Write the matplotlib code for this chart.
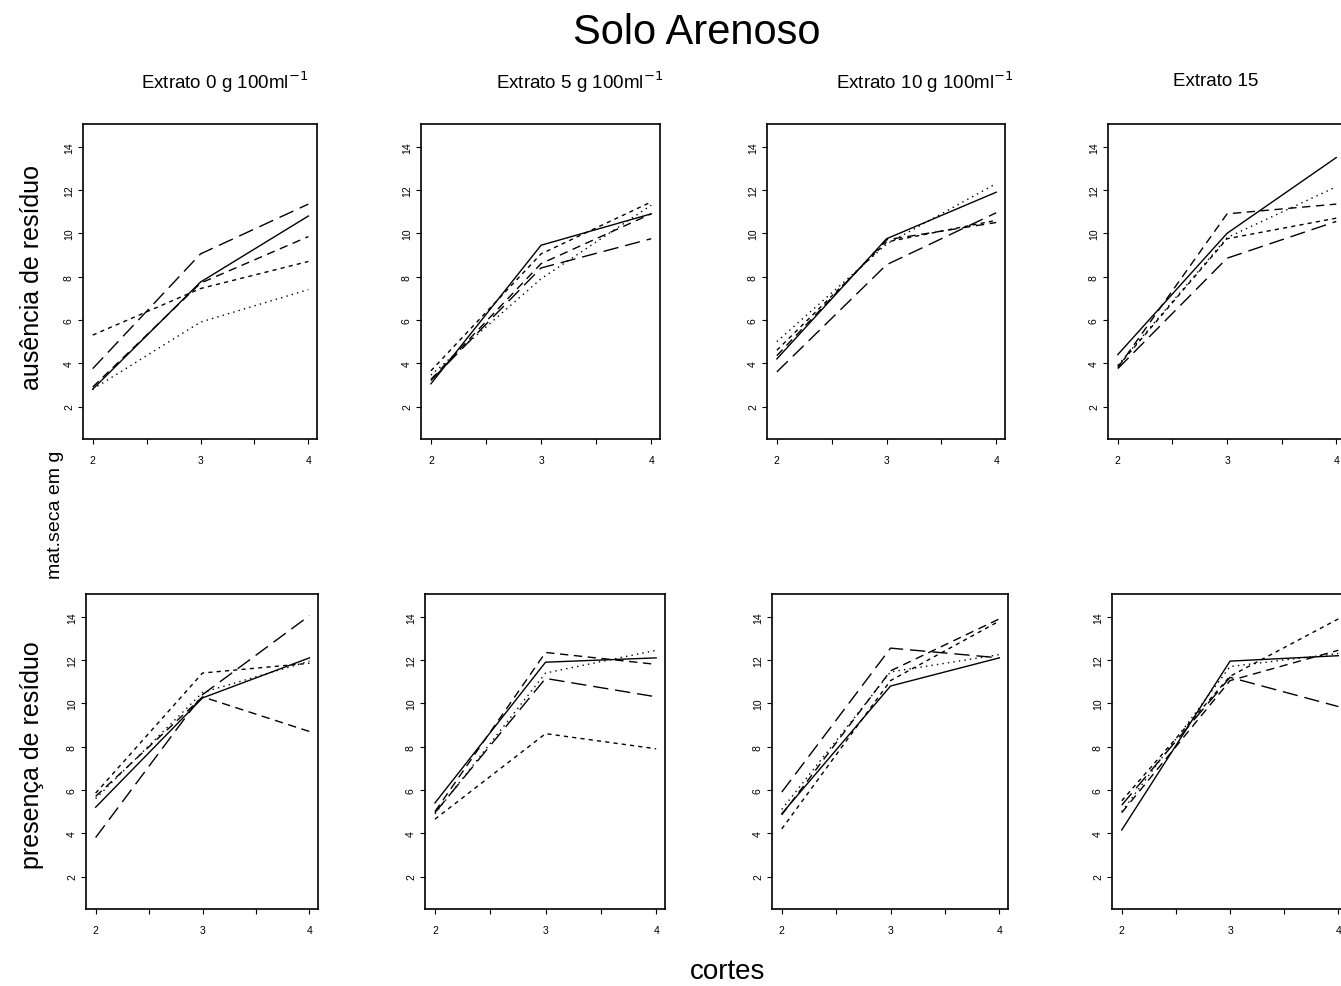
import matplotlib
matplotlib.use('Agg')
from matplotlib import pyplot as plt

# fonte parecida com a Helvetica do original
plt.rcParams['font.family'] = ['Liberation Sans', 'DejaVu Sans']

# eixo x: cortes
cortes = [2, 3, 4]

# ausência de resíduo (linha de cima), 5 séries por painel
aus_0 = [[2.8, 7.75, 10.8], [2.8, 5.9, 7.4], [5.3, 7.45, 8.7], [2.9, 7.7, 9.85], [3.75, 9.05, 11.35]]
aus_5 = [[3.05, 9.45, 10.9], [3.45, 7.9, 11.3], [3.65, 9.05, 11.45], [3.25, 8.6, 10.9], [3.2, 8.4, 9.75]]
aus_10 = [[4.2, 9.75, 11.9], [5.0, 9.5, 12.3], [4.6, 9.6, 10.6], [4.35, 9.7, 10.5], [3.6, 8.55, 10.95]]
aus_15 = [[4.4, 10.0, 13.5], [3.9, 9.8, 12.15], [3.85, 9.75, 10.7], [3.8, 10.9, 11.35], [3.75, 8.85, 10.55]]

# presença de resíduo (linha de baixo)
pres_0 = [[5.2, 10.25, 12.1], [5.6, 10.5, 11.95], [5.85, 11.4, 11.85], [5.7, 10.3, 8.7], [3.8, 10.4, 14.05]]
pres_5 = [[5.4, 11.9, 12.1], [4.9, 11.4, 12.45], [4.65, 8.6, 7.9], [5.0, 12.35, 11.8], [4.95, 11.15, 10.3]]
pres_10 = [[4.9, 10.8, 12.1], [5.1, 11.45, 12.25], [4.2, 11.05, 13.8], [4.85, 11.5, 13.9], [5.9, 12.55, 12.1]]
pres_15 = [[4.15, 11.95, 12.2], [5.0, 11.7, 12.3], [5.5, 11.25, 13.9], [4.95, 11.05, 12.45], [5.3, 11.2, 9.85]]

titulos = ['Extrato 0 g 100ml$^{-1}$', 'Extrato 5 g 100ml$^{-1}$',
           'Extrato 10 g 100ml$^{-1}$', 'Extrato 15']
yticks = [2, 4, 6, 8, 10, 12, 14]

estilos = ['-', (0, (1, 3)), (0, (3, 3)), (0, (6, 4)), (0, (11, 5))]

W, H = 1341, 987
fig = plt.figure(figsize=(W / 100, H / 100), dpi=100)


def painel(left, top, right, bottom, series):
    ax = fig.add_axes([left / W, 1 - bottom / H, (right - left) / W, (bottom - top) / H])
    for s, ls in zip(series, estilos):
        ax.plot(cortes, s, color='black', lw=1.0, linestyle=ls)
    ax.set_xlim(1.91, 4.08)
    ax.set_ylim(0.5, 15.05)
    ax.set_xticks([2, 2.5, 3, 3.5, 4])
    ax.set_xticklabels(['2', '', '3', '', '4'])
    ax.set_yticks(yticks)
    ax.set_yticklabels([str(v) for v in yticks], rotation=90, va='center')
    ax.tick_params(direction='out', length=3.5, width=0.8, labelsize=7.5)
    ax.tick_params(axis='x', pad=8)
    ax.tick_params(axis='y', pad=3)
    for sp in ax.spines.values():
        sp.set_linewidth(1.2)
    return ax


cols_top = [(83, 317), (421, 660), (767, 1005), (1108, 1345)]
cols_bot = [(86, 318), (425, 665), (772, 1008), (1112, 1347)]
for (l, r), s in zip(cols_top, [aus_0, aus_5, aus_10, aus_15]):
    painel(l, 125, r, 440, s)
for (l, r), s in zip(cols_bot, [pres_0, pres_5, pres_10, pres_15]):
    painel(l, 595, r, 910, s)

# textos
fig.text(697 / W, 1 - 33 / H, 'Solo Arenoso', ha='center', va='center', fontsize=30)
for x, t in zip([225, 580, 925, 1216], titulos):
    fig.text(x / W, 1 - 82 / H, t, ha='center', va='center', fontsize=13.5)
fig.text(32 / W, 1 - 278 / H, 'ausência de resíduo', rotation=90, ha='center', va='center', fontsize=18)
fig.text(32 / W, 1 - 755 / H, 'presença de resíduo', rotation=90, ha='center', va='center', fontsize=18)
fig.text(56 / W, 1 - 515 / H, 'mat.seca em g', rotation=90, ha='center', va='center', fontsize=14)
fig.text(728 / W, 1 - 972 / H, 'cortes', ha='center', va='center', fontsize=20)

fig.savefig('out.png', dpi=100)
